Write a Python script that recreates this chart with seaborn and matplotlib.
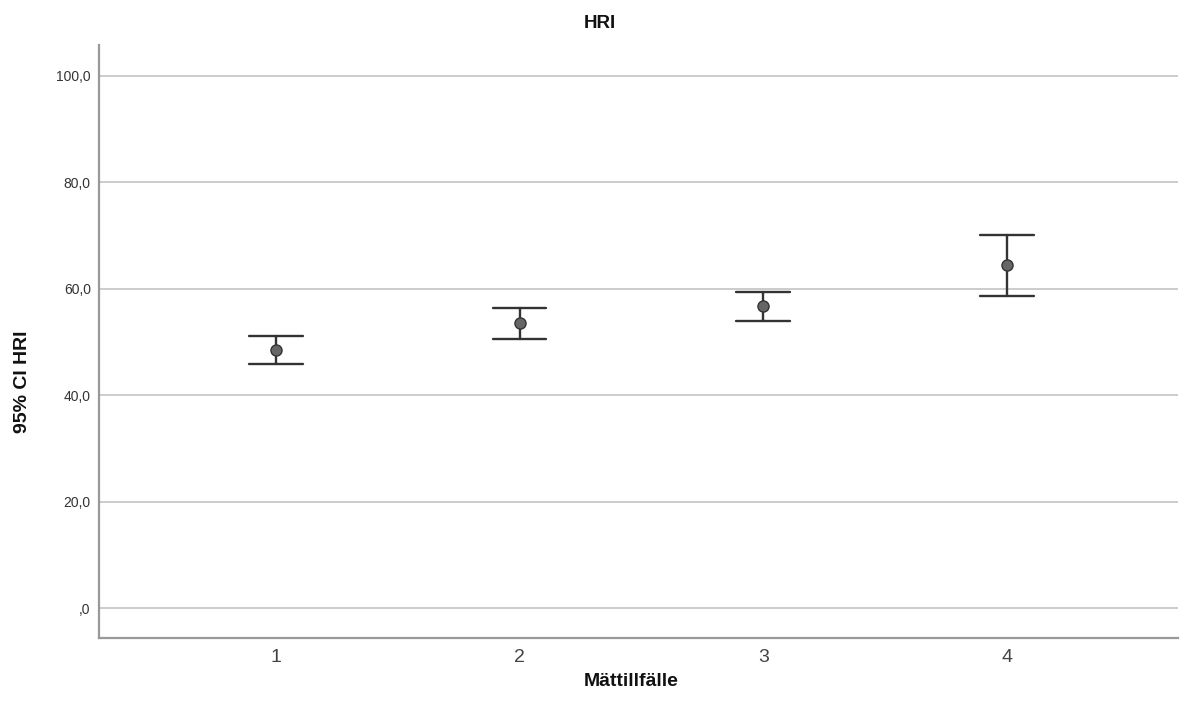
import numpy as np
import pandas as pd
import matplotlib
matplotlib.use("Agg")
import matplotlib.pyplot as plt
import seaborn as sns

tillfallen = ["1", "2", "3", "4"]
medel = [48.5, 53.5, 56.7, 64.5]
ci_lag = [45.8, 50.5, 53.9, 58.7]
ci_hog = [51.2, 56.4, 59.5, 70.2]
yticks = [0, 20, 40, 60, 80, 100]
ytick_labels = [",0", "20,0", "40,0", "60,0", "80,0", "100,0"]

# long format: low / mean / high per occasion; median gives the mean, min/max the CI
df = pd.DataFrame({
    "Mättillfälle": np.repeat(tillfallen, 3),
    "HRI": np.ravel(np.column_stack([ci_lag, medel, ci_hog])),
})

sns.set_style("white")
plt.rcParams["font.family"] = ["Liberation Sans", "DejaVu Sans"]

fig = plt.figure(figsize=(11.8, 7.16), dpi=100)
ax = fig.add_axes([0.084, 0.109, 0.914, 0.828])

for y in yticks:
    ax.axhline(y, color="#c8c8c8", lw=1.3, zorder=0)

sns.pointplot(data=df, x="Mättillfälle", y="HRI", order=tillfallen,
              estimator="median", errorbar=lambda v: (v.min(), v.max()),
              capsize=0.22, linestyle="none", marker="o", markersize=8,
              color="#333333", err_kws={"linewidth": 1.7}, ax=ax)

for ln in ax.lines:
    if ln.get_marker() == "o":
        ln.set_markerfacecolor("#666666")
        ln.set_markeredgecolor("#333333")
        ln.set_markeredgewidth(1.0)
        ln.set_zorder(5)

ax.set_xlim(-0.725, 3.70)
ax.set_ylim(-5.6, 105.8)
ax.set_yticks(yticks)
ax.set_yticklabels(ytick_labels)

for side in ["top", "right"]:
    ax.spines[side].set_visible(False)
for side in ["left", "bottom"]:
    ax.spines[side].set_color("#999999")
    ax.spines[side].set_linewidth(1.6)

ax.tick_params(axis="y", length=0, labelsize=10, colors="#333333", pad=6)
ax.tick_params(axis="x", length=0, labelsize=14, colors="#444444", pad=8)

ax.set_title("HRI", fontsize=13.5, fontweight="bold", color="#111111", x=0.464, pad=12)
ax.set_ylabel("95% CI HRI", fontsize=14, fontweight="bold", color="#111111")
ax.yaxis.set_label_coords(-0.063, 0.433)
ax.set_xlabel("Mättillfälle", fontsize=14, fontweight="bold", color="#111111")
ax.xaxis.set_label_coords(0.493, -0.059)

fig.savefig("out.png", dpi=100)
